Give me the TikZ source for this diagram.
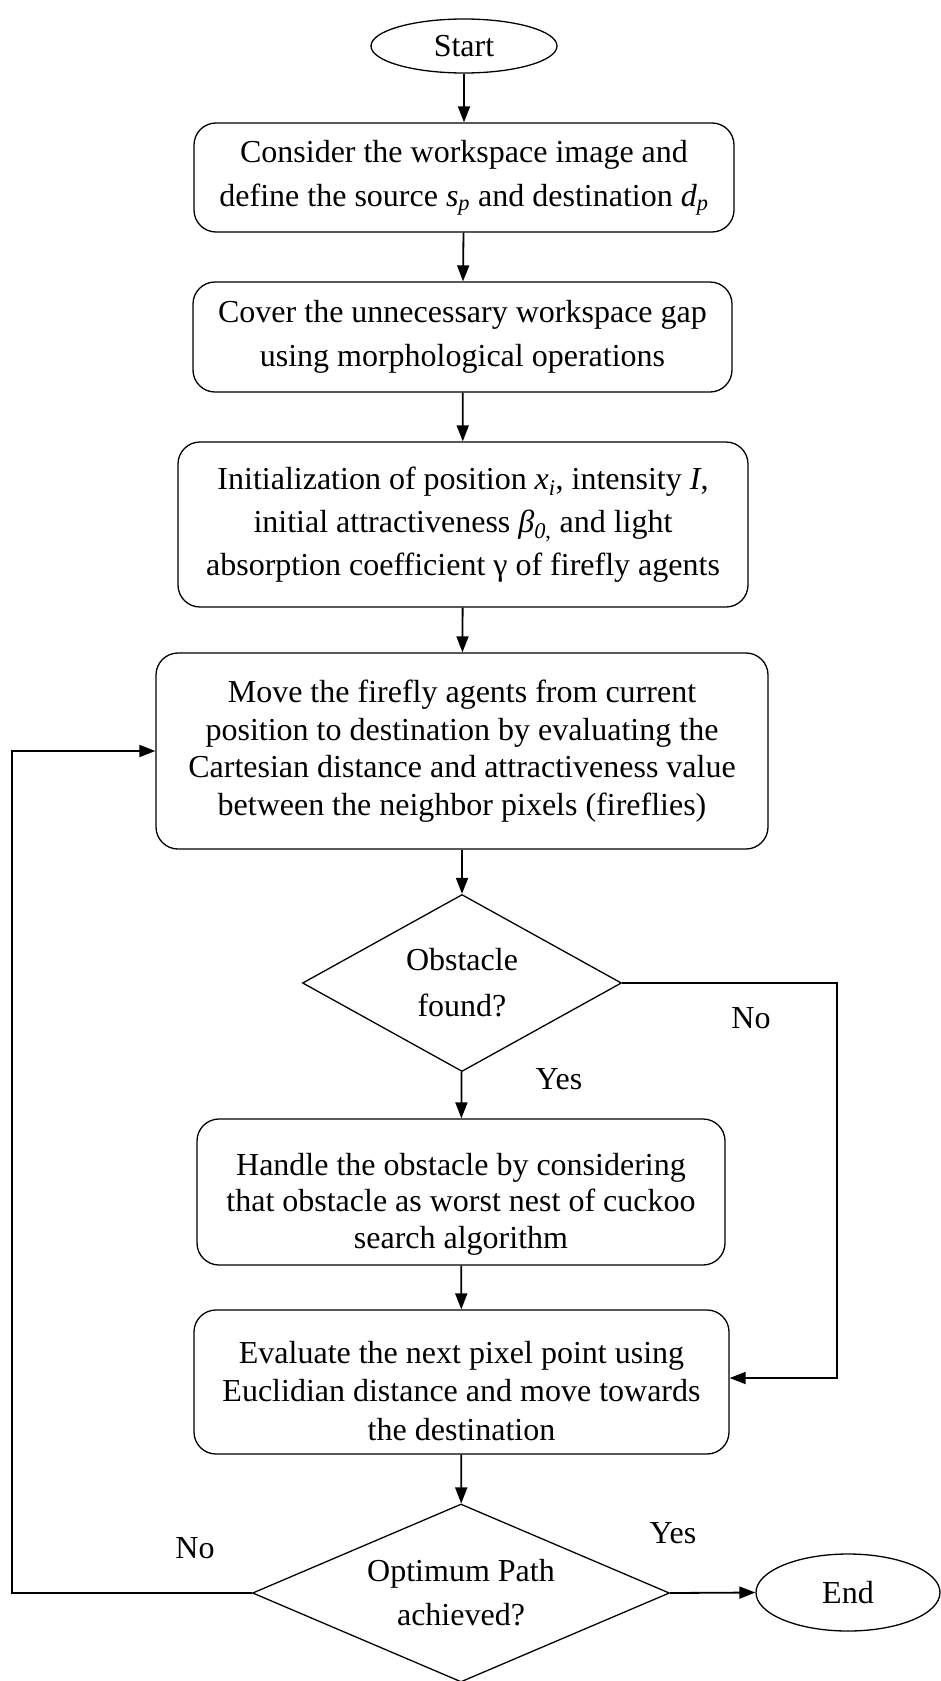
\documentclass[tikz,border=0pt]{standalone}
\usepackage{fontspec}
\setmainfont{Liberation Serif}
\usetikzlibrary{shapes.geometric,arrows.meta}
\tikzset{
  proc/.style={draw, line width=1.3pt, rounded corners=22pt, align=center, inner sep=0pt,
    font=\fontsize{32}{44}\selectfont},
  term/.style={draw, ellipse, line width=1.3pt, inner sep=0pt, font=\fontsize{32}{40}\selectfont},
  decide/.style={draw, diamond, line width=1.3pt, inner sep=0pt, align=center,
    font=\fontsize{32}{46}\selectfont},
  flow/.style={line width=1.8pt, -{Triangle[length=16pt,width=12pt]}},
  lbl/.style={font=\fontsize{32}{40}\selectfont, inner sep=0pt}
}
\newcommand{\ital}[1]{\textit{#1}}
\begin{document}
\begin{tikzpicture}[x=1pt,y=-1pt]
\useasboundingbox (0,0) rectangle (940,1681);

\node[term, minimum width=186pt, minimum height=54pt] (start) at (464,46) {Start};

\node[proc, minimum width=540pt, minimum height=109pt] (b1) at (464,177.5)
  {Consider the workspace image and\\define the source \ital{s}\textsubscript{\ital{p}} and destination \ital{d}\textsubscript{\ital{p}}};

\node[proc, minimum width=539pt, minimum height=110pt] (b2) at (462.5,337)
  {Cover the unnecessary workspace gap\\using morphological operations};

\node[proc, minimum width=570pt, minimum height=165pt, font=\fontsize{32}{43}\selectfont] (b3) at (463,524.5)
  {Initialization of position \ital{x}\textsubscript{\ital{i}}, intensity \ital{I},\\initial attractiveness \ital{β}\textsubscript{\ital{0},} and light\\absorption coefficient γ of firefly agents};

\node[proc, minimum width=612pt, minimum height=196pt, font=\fontsize{32}{37.5}\selectfont] (b4) at (462,751)
  {Move the firefly agents from current\\position to destination by evaluating the\\Cartesian distance and attractiveness value\\between the neighbor pixels (fireflies)};

\node[decide, aspect=1.8, minimum width=319pt, minimum height=177pt] (d1) at (462,983)
  {Obstacle\\found?};

\node[proc, minimum width=528pt, minimum height=146pt, font=\fontsize{32}{36.5}\selectfont,
      text height=112pt, text depth=0pt] (b5) at (461,1192)
  {Handle the obstacle by considering\\that obstacle as worst nest of cuckoo\\search algorithm};

\node[proc, minimum width=535pt, minimum height=144pt, font=\fontsize{32}{38.5}\selectfont,
      text height=116pt, text depth=0pt] (b6) at (461.5,1382)
  {Evaluate the next pixel point using\\Euclidian distance and move towards\\the destination};

\node[decide, aspect=2.34, minimum width=417pt, minimum height=178pt, font=\fontsize{32}{44}\selectfont] (d2) at (461,1593)
  {Optimum Path\\achieved?};

\node[term, minimum width=184pt, minimum height=77pt] (end) at (848,1592.5) {End};

% branch labels
\node[lbl] (no1) at (751,1018) {No};
\node[lbl] (yes1) at (559,1079) {Yes};
\node[lbl] (yes2) at (673,1533) {Yes};
\node[lbl] (no2) at (195,1548) {No};

% loop-back and bypass corners
\coordinate (rtop) at (837,983);
\coordinate (rbot) at (837,1378);
\coordinate (lbot) at (12,1593);
\coordinate (ltop) at (12,751);

% main flow
\draw[flow] (start) -- (b1);
\draw[flow] (b1) -- (b2);
\draw[flow] (b2) -- (b3);
\draw[flow] (b3) -- (b4);
\draw[flow] (b4) -- (d1);
\draw[flow] (d1) -- (b5);
\draw[flow] (b5) -- (b6);
\draw[flow] (b6) -- (d2);
\draw[flow] (d2.east) -- (end.west);

% no obstacle: go straight to the next pixel evaluation
\draw[flow] (d1.east) -- (rtop) -- (rbot) -- (b6.east |- rbot);

% path not yet optimal: move the agents again
\draw[flow] (d2.west) -- (lbot) -- (ltop) -- (b4.west |- ltop);
\end{tikzpicture}
\end{document}
